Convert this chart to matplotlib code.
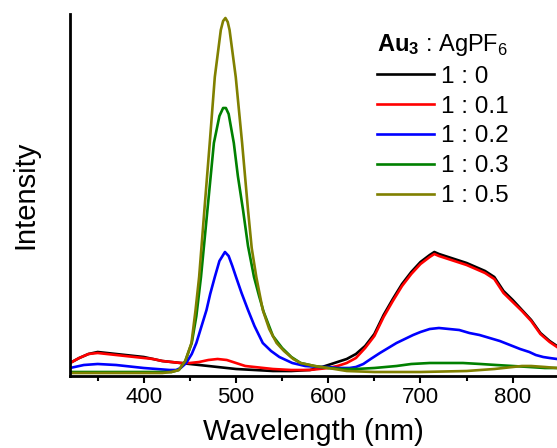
import numpy as np
import matplotlib
matplotlib.use("Agg")
import matplotlib.pyplot as plt

plt.rcParams['font.family'] = ['Liberation Sans', 'DejaVu Sans']
plt.rcParams['mathtext.fontset'] = 'custom'
plt.rcParams['mathtext.rm'] = 'Liberation Sans'
plt.rcParams['mathtext.bf'] = 'Liberation Sans:bold'

# emission spectra, intensity in arbitrary units
wl_black = [320, 330, 340, 350, 360, 370, 380, 390, 400, 410, 420, 430, 440, 450, 460, 470, 480,
            490, 500, 520, 540, 560, 580, 590, 600, 610, 620, 630, 640, 650, 660, 670, 680, 690,
            700, 710, 715, 720, 730, 740, 750, 760, 770, 780, 790, 800, 810, 820, 830, 840, 848]
int_black = [13, 18, 22, 24, 23, 22, 21, 20, 19, 17, 15, 14, 13, 12, 11, 10, 9,
             8, 7, 6, 5, 5, 6, 8, 11, 14, 17, 22, 30, 42, 61, 77, 92, 104,
             114, 121, 124, 122, 119, 116, 113, 109, 105, 99, 85, 76, 66, 56, 43, 35, 30]

wl_red = [320, 330, 340, 350, 360, 370, 380, 390, 400, 410, 420, 430, 440, 450, 460, 470, 480,
          490, 500, 510, 520, 530, 540, 560, 580, 600, 610, 620, 630, 640, 650, 660, 670, 680,
          690, 700, 710, 715, 720, 730, 740, 750, 760, 770, 780, 790, 800, 810, 820, 830, 840, 848]
int_red = [13, 18, 22, 23, 22, 21, 20, 19, 18, 17, 15, 14, 13, 13, 14, 16, 17,
           16, 13, 10, 9, 8, 7, 6, 6, 8, 10, 13, 18, 28, 40, 59, 75, 90,
           102, 112, 119, 122, 120, 117, 114, 111, 107, 103, 97, 83, 74, 65, 55, 42, 34, 29]

wl_blue = [320, 335, 350, 370, 400, 428, 435, 440, 446, 452, 457, 462, 468, 472, 477, 482, 488,
           492, 496, 500, 506, 513, 520, 529, 538, 547, 561, 575, 590, 600, 610, 623, 630, 638,
           646, 656, 665, 674, 683, 692, 700, 710, 720, 731, 742, 753, 764, 775, 786, 797, 808,
           818, 825, 833, 840, 848]
int_blue = [8, 11, 12, 11, 8, 6, 6, 8, 13, 22, 33, 48, 66, 82, 99, 115, 124,
            120, 110, 99, 83, 66, 50, 33, 25, 19, 13, 10, 9, 9, 8, 8, 9, 12,
            17, 23, 28, 33, 37, 41, 44, 47, 48, 47, 46, 43, 41, 38, 35, 31, 27,
            24, 21, 19, 18, 17]

wl_green = [320, 360, 400, 430, 438, 445, 452, 457, 462, 469, 476, 482, 486, 489, 492, 497.6,
            502, 507.6, 513, 519.5, 525, 530, 540, 550, 560, 570, 585, 600, 615, 630, 650, 674,
            690, 710, 730, 746, 765, 782, 800, 818, 835, 848]
int_green = [4, 4, 4, 4, 6, 15, 33, 60, 99, 166, 233, 260, 268, 268, 262, 233,
             200, 166, 130, 99, 80, 64, 40, 28, 19, 13, 10, 8, 7, 7, 8, 10,
             12, 13, 13, 13, 12, 11, 10, 9, 8, 8]

wl_olive = [320, 360, 400, 420, 430, 438, 445, 451.7, 456, 460, 465.7, 471.5, 477, 483.5, 486,
            488.5, 491, 493, 499.7, 506.6, 513, 517, 522, 529, 536, 544, 552, 562, 570, 585, 600,
            620, 650, 700, 750, 780, 800, 810, 820, 835, 848]
int_olive = [3, 3, 3, 3, 4, 6, 15, 33, 65, 99, 166, 233, 299, 346, 355,
             358, 354, 346, 299, 233, 166, 128, 99, 66, 47, 33, 25, 17, 13, 10, 8,
             5, 4, 4, 5, 7, 9, 10, 10, 9, 8]

ratios = ['1 : 0', '1 : 0.1', '1 : 0.2', '1 : 0.3', '1 : 0.5']
colors = ['black', '#ff0000', '#0000ff', '#008000', '#808000']

fig = plt.figure(figsize=(5.57, 4.48), dpi=100)
ax = fig.add_axes([70 / 557, 1 - 376 / 448, 1 - 70 / 557, 362 / 448])

series = [(wl_black, int_black), (wl_red, int_red), (wl_blue, int_blue),
          (wl_green, int_green), (wl_olive, int_olive)]
for (x, y), lab, c in zip(series, ratios, colors):
    ax.plot(x, y, color=c, lw=1.9, label=lab)

ax.set_xlim(320, 848)
ax.set_ylim(0, 362)
ax.set_xticks([400, 500, 600, 700, 800])
ax.set_xticks(np.arange(350, 850, 100), minor=True)
ax.set_yticks([])
ax.tick_params(axis='x', which='major', direction='out', length=5, width=1.5,
               labelsize=16, pad=3)
ax.tick_params(axis='x', which='minor', direction='out', length=3.5, width=1.5)
for s in ['top', 'right']:
    ax.spines[s].set_visible(False)
for s in ['left', 'bottom']:
    ax.spines[s].set_linewidth(2)

ax.set_xlabel('Wavelength (nm)', fontsize=21, labelpad=7)
ax.set_ylabel('Intensity', fontsize=21, labelpad=22)

leg = ax.legend(title=r'$\mathbf{Au_3}$ : AgPF$_6$', loc='upper left',
                bbox_to_anchor=(0.63, 0.95), frameon=False, fontsize=17.5,
                title_fontsize=17, handlelength=2.35, handletextpad=0.28,
                labelspacing=0.32, borderpad=0, borderaxespad=0, alignment='left')

fig.savefig('out.png', dpi=100)
